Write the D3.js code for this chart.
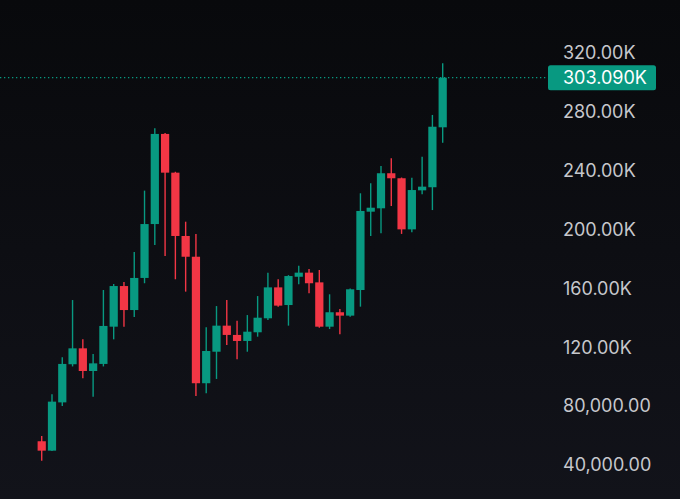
<!DOCTYPE html>
<html>
<head>
<meta charset="utf-8">
<script src="https://cdn.jsdelivr.net/npm/d3@7"></script>
<style>
  html, body { margin: 0; padding: 0; background: #0b0c10; }
  svg { display: block; }
</style>
</head>
<body>
<div id="chart"></div>
<script>
// candle data (price values)
const opens  = [56200, 49800, 82600, 108500, 119300, 103900, 108700, 134000, 161600, 145300,
                167100, 203700, 264900, 238600, 195600, 181500, 95600, 117000, 134700, 128400,
                124300, 130200, 139700, 160700, 148700, 167900, 170700, 164100, 134000, 143800,
                141500, 158900, 212100, 214400, 238200, 234800, 200100, 226600, 228700, 269400];
const highs  = [59800, 88100, 113200, 152100, 125400, 115400, 158900, 163000, 164300, 184700,
                226400, 268700, 265500, 239200, 205300, 196900, 133600, 148000, 152100, 138100,
                141900, 154800, 170700, 166200, 169000, 175400, 173200, 172500, 156000, 146000,
                160000, 224600, 231400, 243100, 248400, 235300, 235200, 249400, 277800, 312900];
const lows   = [43000, 49500, 80100, 107000, 98900, 86500, 107000, 125400, 134000, 140600,
                163500, 189500, 182000, 166200, 157800, 86900, 88800, 98500, 121600, 111900,
                117000, 127200, 138500, 147600, 134700, 162800, 156700, 133300, 132400, 128800,
                140800, 147600, 195600, 197400, 216000, 197000, 198100, 223900, 213200, 258900];
const closes = [49800, 83100, 108700, 119300, 103900, 109100, 134500, 161600, 145300, 167100,
                203700, 264900, 238600, 195600, 181500, 95600, 117500, 134700, 128400, 124300,
                130600, 140100, 160700, 148300, 168400, 170700, 163500, 134000, 143800, 141500,
                159400, 212600, 214800, 238200, 234800, 200100, 226800, 229100, 269800, 303090];

const tickValues = [40000, 80000, 120000, 160000, 200000, 240000, 280000, 320000, 360000];
const lastPrice = 303090;

const svgWidth = 680;
const svgHeight = 499;

const upColor = "#089981";
const downColor = "#f23645";

var svg = d3.select("#chart")
    .append("svg")
    .attr("width", svgWidth)
    .attr("height", svgHeight);

// dark background with a slight fade toward the bottom
var defs = svg.append("defs");
var grad = defs.append("linearGradient")
    .attr("id", "bg")
    .attr("x1", 0).attr("y1", 0)
    .attr("x2", 0).attr("y2", 1);
grad.append("stop").attr("offset", "0%").attr("stop-color", "#08090c");
grad.append("stop").attr("offset", "100%").attr("stop-color", "#12131a");

svg.append("rect")
    .attr("width", svgWidth)
    .attr("height", svgHeight)
    .attr("fill", "url(#bg)");

// scales
var xScale = d3.scaleBand()
    .domain(d3.range(opens.length))
    .range([37.6, 446.8])
    .paddingInner(0.2);

var yScale = d3.scaleLinear()
    .domain([0, 360000])
    .range([524, 524 - 1.4725 * 360]);

var candles = opens.map((o, i) => ({
    open: o, high: highs[i], low: lows[i], close: closes[i]
}));

var fmt = d3.format(",.2f");
function priceFormat(v) {
    return v >= 100000 ? (v / 1000).toFixed(2) + "K" : fmt(v);
}

// right axis
var yAxis = svg.append("g")
    .attr("transform", "translate(563,0)")
    .call(d3.axisRight(yScale)
        .tickValues(tickValues)
        .tickSize(0)
        .tickPadding(0)
        .tickFormat(priceFormat));

yAxis.select(".domain").remove();
yAxis.selectAll("text")
    .attr("fill", "#c6c7cc")
    .attr("font-family", "Inter, 'Open Sans', sans-serif")
    .attr("font-size", 18);

// last price dotted line
svg.append("line")
    .attr("x1", 0)
    .attr("x2", 548)
    .attr("y1", yScale(lastPrice))
    .attr("y2", yScale(lastPrice))
    .attr("stroke", upColor)
    .attr("stroke-width", 1.2)
    .attr("stroke-dasharray", "1.3,2.7");

// candles
var g = svg.append("g");
var candle = g.selectAll("g.candle")
    .data(candles)
    .enter()
    .append("g")
    .attr("class", "candle");

candle.append("line")
    .attr("x1", (d, i) => xScale(i) + xScale.bandwidth() / 2)
    .attr("x2", (d, i) => xScale(i) + xScale.bandwidth() / 2)
    .attr("y1", d => yScale(d.high))
    .attr("y2", d => yScale(d.low))
    .attr("stroke", d => d.close >= d.open ? upColor : downColor)
    .attr("stroke-width", 1.4);

candle.append("rect")
    .attr("x", (d, i) => xScale(i))
    .attr("width", xScale.bandwidth())
    .attr("y", d => yScale(Math.max(d.open, d.close)))
    .attr("height", d => Math.max(1, Math.abs(yScale(d.open) - yScale(d.close))))
    .attr("fill", d => d.close >= d.open ? upColor : downColor);

// last price label
var ly = yScale(lastPrice);
svg.append("rect")
    .attr("x", 548)
    .attr("y", ly - 12.5)
    .attr("width", 108)
    .attr("height", 25)
    .attr("rx", 2.5)
    .attr("fill", upColor);

svg.append("text")
    .attr("x", 563)
    .attr("y", ly)
    .attr("dy", "0.35em")
    .attr("fill", "#ffffff")
    .attr("font-family", "Inter, 'Open Sans', sans-serif")
    .attr("font-size", 18)
    .text(priceFormat(lastPrice).replace("303.09K", "303.090K"));
</script>
</body>
</html>
